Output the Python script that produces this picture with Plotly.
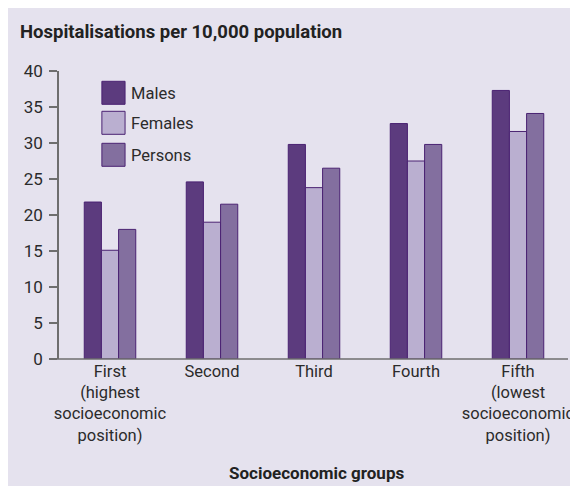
import plotly.graph_objects as go

categories = ["First<br>(highest<br>socioeconomic<br>position)", "Second", "Third", "Fourth",
              "Fifth<br>(lowest<br>socioeconomic<br>position)"]
series_names = ["Males", "Females", "Persons"]
males = [21.8, 24.6, 29.8, 32.7, 37.3]
females = [15.1, 19.0, 23.8, 27.5, 31.6]
persons = [18.0, 21.5, 26.5, 29.8, 34.1]
y_ticks = [0, 5, 10, 15, 20, 25, 30, 35, 40]

colors = ["#5C3B7E", "#BAAFD0", "#836F9F"]
edge = "#4A2272"
bg = "#E5E2EE"
txt = "#2B2B2B"
FONT = "Roboto, sans-serif"

W, H = 570, 478
L, R, T, B = 51, 4, 63, 127
PW, PH = W - L - R, H - T - B

def px(x):
    return (x - L) / PW

def py(y):
    return (H - B - y) / PH

fig = go.Figure()
for name, vals, c in zip(series_names, [males, females, persons], colors):
    fig.add_trace(go.Bar(x=categories, y=vals, name=name, marker=dict(color=c, line=dict(color=edge, width=1)),
                         showlegend=False))

shapes = []
# x axis line (extends left of y axis)
shapes.append(dict(type="line", xref="paper", yref="paper", x0=px(42), x1=px(565), y0=0, y1=0,
                   line=dict(color="#6E6E6E", width=1.5)))
annotations = []
# custom legend
box_tops = [73.3, 103.3, 135.3]
for name, c, top in zip(series_names, colors, box_tops):
    shapes.append(dict(type="rect", xref="paper", yref="paper", x0=px(94.3), x1=px(117.7),
                       y0=py(top + 23), y1=py(top), fillcolor=c, line=dict(color=edge, width=1)))
    annotations.append(dict(text=name, xref="paper", yref="paper", x=px(122), y=py(top + 12),
                            xanchor="left", yanchor="middle", showarrow=False,
                            font=dict(family=FONT, size=16.5, color=txt)))
annotations.append(dict(text="<b>Socioeconomic groups</b>", xref="paper", yref="paper", x=px(311.5), y=py(465),
                        xanchor="center", yanchor="middle", showarrow=False,
                        font=dict(family=FONT, size=17, color="#222")))

fig.update_layout(
    width=W, height=H,
    margin=dict(l=L, r=R, t=T, b=B, pad=0),
    paper_bgcolor=bg, plot_bgcolor=bg,
    barmode="group", bargap=0.495, bargroupgap=0,
    title=dict(text="<b>Hospitalisations per 10,000 population</b>", x=12 / W, xanchor="left",
               y=1 - 24 / H, yanchor="middle", font=dict(family=FONT, size=18.5, color="#222")),
    font=dict(family=FONT, size=17, color=txt),
    shapes=shapes, annotations=annotations,
    xaxis=dict(showline=False, ticks="", showgrid=False, zeroline=False,
               tickfont=dict(family=FONT, size=16.5, color=txt), range=[-0.5, 4.5]),
    yaxis=dict(range=[0, 40], tickvals=y_ticks, showline=True, linecolor="#6E6E6E", linewidth=1.5,
               ticks="outside", ticklen=8, tickcolor="#6E6E6E", tickwidth=1.5, showgrid=False, zeroline=False,
               ticklabelstandoff=3, tickfont=dict(family=FONT, size=17, color=txt)),
)
fig.write_html("out.html")
